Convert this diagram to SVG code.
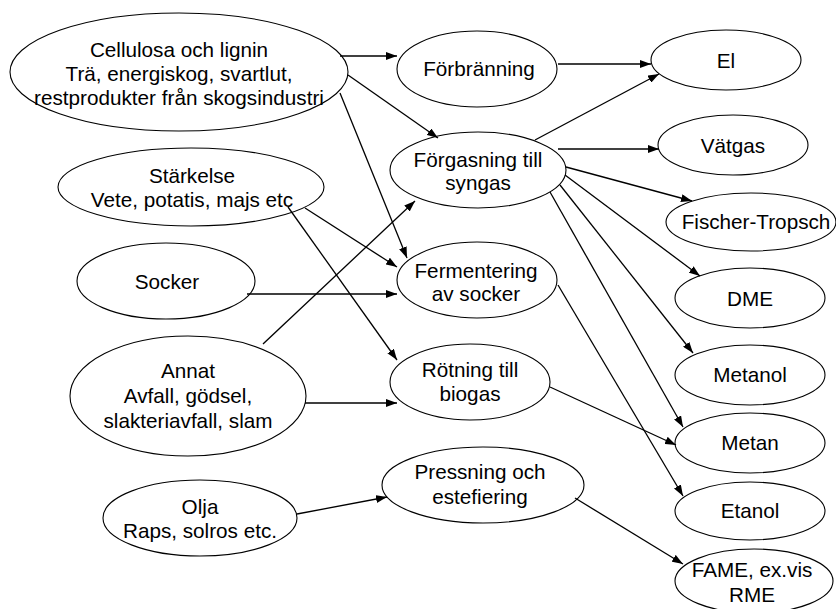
<svg xmlns="http://www.w3.org/2000/svg" width="836" height="609" viewBox="0 0 836 609">
<style>
.n ellipse{fill:#fff;stroke:#000;stroke-width:1.1}
.n text{font-family:"Liberation Sans",Arial,sans-serif;font-size:20.7px;fill:#000;text-anchor:middle}
#edges line{stroke:#000;stroke-width:1.3;fill:none;marker-end:url(#ah)}
</style>
<defs>
<marker id="ah" markerUnits="userSpaceOnUse" markerWidth="11" markerHeight="8" refX="11" refY="4" orient="auto">
<path d="M0,0 L11,4 L0,8 z" fill="#000"/>
</marker>
</defs>
<rect width="836" height="609" fill="#fff"/>
<g class="n" id="cellulosa"><ellipse cx="179" cy="72" rx="169" ry="59"/><text x="179" y="57">Cellulosa och lignin</text><text x="179" y="81">Trä, energiskog, svartlut,</text><text x="179" y="105">restprodukter från skogsindustri</text></g>
<g class="n" id="forbranning"><ellipse cx="477" cy="69" rx="80" ry="38"/><text x="479" y="76">Förbränning</text></g>
<g class="n" id="el"><ellipse cx="726" cy="60" rx="75" ry="30"/><text x="726" y="68">El</text></g>
<g class="n" id="vatgas"><ellipse cx="733" cy="145" rx="75" ry="30"/><text x="733" y="153">Vätgas</text></g>
<g class="n" id="forgasning"><ellipse cx="478" cy="170" rx="88" ry="38"/><text x="478" y="167">Förgasning till</text><text x="478" y="190">syngas</text></g>
<g class="n" id="fischer"><ellipse cx="751" cy="222" rx="85" ry="29"/><text x="756" y="229">Fischer-Tropsch</text></g>
<g class="n" id="dme"><ellipse cx="750" cy="298" rx="75" ry="30"/><text x="750" y="306">DME</text></g>
<g class="n" id="metanol"><ellipse cx="750" cy="375" rx="75" ry="30"/><text x="750" y="382">Metanol</text></g>
<g class="n" id="metan"><ellipse cx="750" cy="443" rx="75" ry="30"/><text x="750" y="450">Metan</text></g>
<g class="n" id="etanol"><ellipse cx="750" cy="511" rx="75" ry="29"/><text x="750" y="518">Etanol</text></g>
<g class="n" id="fame"><ellipse cx="754" cy="581" rx="79" ry="32"/><text x="752" y="577">FAME, ex.vis</text><text x="752" y="602">RME</text></g>
<g class="n" id="fermentering"><ellipse cx="477" cy="280" rx="80" ry="38"/><text x="476" y="278">Fermentering</text><text x="476" y="301">av socker</text></g>
<g class="n" id="rotning"><ellipse cx="470" cy="382" rx="80" ry="38"/><text x="470" y="377">Rötning till</text><text x="470" y="401">biogas</text></g>
<g class="n" id="pressning"><ellipse cx="483" cy="485" rx="101" ry="38"/><text x="480" y="479">Pressning och</text><text x="480" y="504">estefiering</text></g>
<g class="n" id="starkelse"><ellipse cx="191" cy="187" rx="133" ry="39"/><text x="192" y="183">Stärkelse</text><text x="192" y="207">Vete, potatis, majs etc</text></g>
<g class="n" id="socker"><ellipse cx="166" cy="281" rx="89" ry="38"/><text x="167" y="289">Socker</text></g>
<g class="n" id="annat"><ellipse cx="188" cy="396" rx="118" ry="60"/><text x="188" y="378">Annat</text><text x="188" y="403">Avfall, gödsel,</text><text x="188" y="428">slakteriavfall, slam</text></g>
<g class="n" id="olja"><ellipse cx="200" cy="518" rx="97" ry="38"/><text x="200" y="514">Olja</text><text x="200" y="538">Raps, solros etc.</text></g>
<g id="edges">
<line x1="340" y1="56" x2="397" y2="56"/>
<line x1="348" y1="75" x2="438" y2="138"/>
<line x1="340" y1="93" x2="407" y2="258"/>
<line x1="558" y1="64" x2="651" y2="64"/>
<line x1="535" y1="140" x2="659" y2="74"/>
<line x1="558" y1="149" x2="659" y2="149"/>
<line x1="566" y1="167" x2="692" y2="201"/>
<line x1="565" y1="175" x2="700" y2="276"/>
<line x1="560" y1="185" x2="693" y2="353"/>
<line x1="550" y1="192" x2="683" y2="427"/>
<line x1="558" y1="285" x2="683" y2="496"/>
<line x1="550" y1="387" x2="676" y2="445"/>
<line x1="305" y1="208" x2="397" y2="267"/>
<line x1="288" y1="207" x2="397" y2="360"/>
<line x1="247" y1="294" x2="397" y2="294"/>
<line x1="263" y1="344" x2="415" y2="201"/>
<line x1="305" y1="403" x2="397" y2="403"/>
<line x1="297" y1="514" x2="387" y2="497"/>
<line x1="575" y1="498" x2="683" y2="564"/>
</g>
</svg>
